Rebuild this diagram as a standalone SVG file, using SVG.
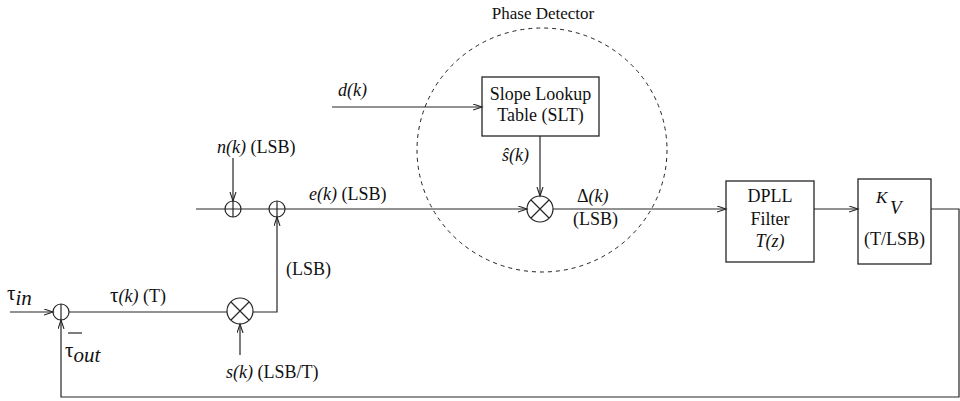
<svg xmlns="http://www.w3.org/2000/svg" width="960" height="401" viewBox="0 0 960 401">
<style>
.ln{fill:none;stroke:#262626;stroke-width:1.2}
.bx{fill:none;stroke:#262626;stroke-width:1.3}
.dash{fill:none;stroke:#222;stroke-width:1;stroke-dasharray:4 4}
text{font-family:"Liberation Serif","Times New Roman",serif;font-size:18px;fill:#111}
.it{font-style:italic}
.mid{text-anchor:middle}
.tau{font-size:21px}
</style>
<defs>
<marker id="arr" markerUnits="userSpaceOnUse" markerWidth="12" markerHeight="10" refX="9" refY="3.5" orient="auto">
<path d="M0,0.5 L9,3.5 L0,6.5" fill="none" stroke="#262626" stroke-width="1.1"/>
</marker>
</defs>
<rect width="960" height="401" fill="#fff"/>

<g id="connectors">
<path class="ln" d="M10,312 H53" marker-end="url(#arr)"/>
<path class="ln" d="M69,312 H227"/>
<path class="ln" d="M253,312 H277 V217" marker-end="url(#arr)"/>
<path class="ln" d="M240,355 V324" marker-end="url(#arr)"/>
<path class="ln" d="M196,209 H527" marker-end="url(#arr)"/>
<path class="ln" d="M233,158 V201" marker-end="url(#arr)"/>
<path class="ln" d="M332,107 H482" marker-end="url(#arr)"/>
<path class="ln" d="M540,136 V196" marker-end="url(#arr)"/>
<path class="ln" d="M553,209 H726" marker-end="url(#arr)"/>
<path class="ln" d="M814,209 H858" marker-end="url(#arr)"/>
<path class="ln" d="M931,209 H959 V397 H61 V320" marker-end="url(#arr)"/>
</g>

<g id="phase-detector">
<ellipse class="dash" cx="542" cy="150" rx="125" ry="122"/>
<text class="mid" x="543" y="19" style="font-size:17px">Phase Detector</text>
</g>

<g id="sum-in">
<circle class="ln" cx="61" cy="312" r="8"/>
<path class="ln" d="M61,304 V320"/>
</g>

<g id="mult-s">
<circle class="ln" cx="240" cy="311" r="13"/>
<path class="ln" d="M231,302 L249,320 M249,302 L231,320"/>
</g>

<g id="sum-n">
<circle class="ln" cx="233" cy="209" r="8"/>
<path class="ln" d="M233,201 V217"/>
</g>

<g id="sum-e">
<circle class="ln" cx="277" cy="209" r="8"/>
<path class="ln" d="M277,201 V217"/>
</g>

<g id="mult-pd">
<circle class="ln" cx="540" cy="209" r="13"/>
<path class="ln" d="M531,200 L549,218 M549,200 L531,218"/>
</g>

<g id="slt">
<rect class="bx" x="482" y="77" width="117" height="59"/>
<text class="mid" x="540.5" y="100">Slope Lookup</text>
<text class="mid" x="540.5" y="121">Table (SLT)</text>
</g>

<g id="dpll">
<rect class="bx" x="726" y="181" width="88" height="81"/>
<text class="mid" x="770" y="202">DPLL</text>
<text class="mid" x="770" y="225">Filter</text>
<text class="mid it" x="770" y="247">T(z)</text>
</g>

<g id="kv">
<rect class="bx" x="858" y="179" width="73" height="85"/>
<text class="it" x="876" y="203" style="font-size:17px">K</text>
<text class="it" x="890" y="214" style="font-size:19px">V</text>
<text class="mid" x="894.5" y="245">(T/LSB)</text>
</g>

<g id="labels">
<text x="217" y="153"><tspan class="it">n(k)</tspan> (LSB)</text>
<text x="309" y="200"><tspan class="it">e(k)</tspan> (LSB)</text>
<text class="it" x="338" y="96">d(k)</text>
<text class="it" x="502" y="161">ŝ(k)</text>
<text x="577" y="202">Δ<tspan class="it">(k)</tspan></text>
<text x="573" y="225">(LSB)</text>
<text x="286" y="275">(LSB)</text>
<text x="110" y="302"><tspan class="tau">τ</tspan><tspan class="it">(k)</tspan> (T)</text>
<text x="226" y="378"><tspan class="it">s(k)</tspan> (LSB/T)</text>
<text x="7" y="300"><tspan class="tau">τ</tspan><tspan class="it tau" dy="5">in</tspan></text>
<path class="ln" d="M68,333 H82"/>
<text x="65" y="357"><tspan class="tau">τ</tspan><tspan class="it tau" dy="5">out</tspan></text>
</g>
</svg>
